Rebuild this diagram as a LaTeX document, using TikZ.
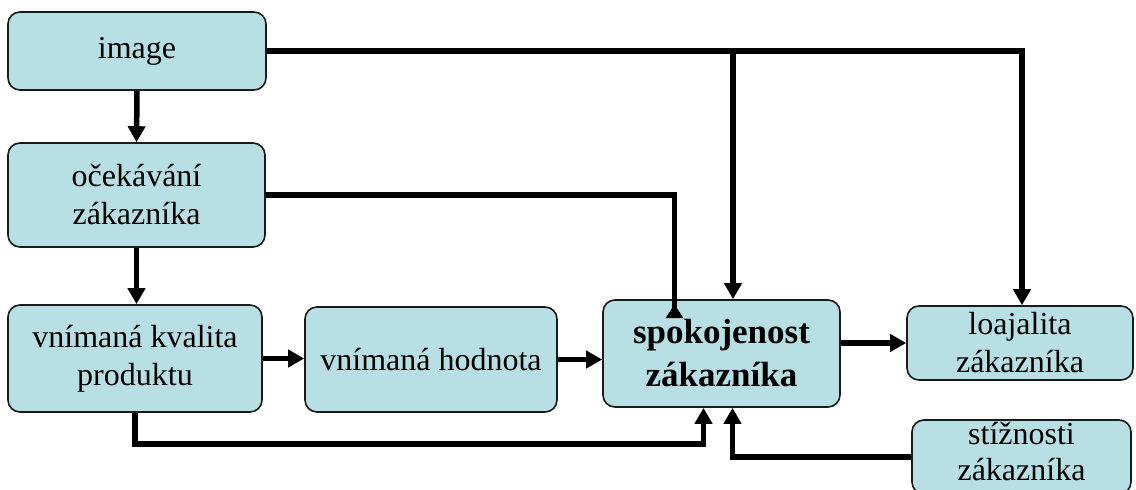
\documentclass[tikz,border=0pt]{standalone}
\usepackage{fontspec}
\setmainfont{Liberation Serif}
\usetikzlibrary{arrows.meta,calc}
\definecolor{boxfill}{HTML}{B8DFE3}
\definecolor{boxline}{HTML}{1A1A1A}
\begin{document}
\begin{tikzpicture}[x=1pt,y=1pt,
  box/.style={draw=boxline,line width=1.6pt,fill=boxfill,rounded corners=12pt,
    align=center,inner sep=0pt,font=\fontsize{32}{38}\selectfont},
  bigbox/.style={box,font=\fontsize{35}{43}\selectfont\bfseries},
  txt/.style={align=center,inner sep=0pt,font=\fontsize{32}{36}\selectfont},
  conn/.style={line width=5.5pt,-{Triangle[length=16pt,width=17pt]}}]
\useasboundingbox (0,0) rectangle (1136,-490);
\clip (0,0) rectangle (1136,-490);
\node[box,minimum width=258pt,minimum height=78pt] (image) at (137,-51) {image};
\node[box,minimum width=257pt,minimum height=104pt] (ocek) at (136.5,-195) {očekávání\\zákazníka};
\node[box,minimum width=254pt,minimum height=107pt] (kval) at (135,-358.5) {vnímaná kvalita\\produktu};
\node[box,minimum width=252pt,minimum height=105pt] (hodn) at (431,-359.5) {vnímaná hodnota};
\node[bigbox,minimum width=237pt,minimum height=107pt] (spok) at (721.5,-353.5) {spokojenost\\zákazníka};
\node[box,minimum width=226pt,minimum height=74pt] (loaj) at (1020,-343) {loajalita\\zákazníka};
\node[box,minimum width=219pt,minimum height=74pt] (stiz) at (1021.5,-457) {};
\node[txt] (stizT) at ($(stiz.center)+(0,5)$) {stížnosti\\zákazníka};
% connectors
\draw[conn] (image.south) -- (ocek.north);
\draw[conn] (image.east) -| ($(spok.north)+(11.5,0)$);
\draw[conn] (image.east) -| ($(loaj.north)+(2,0)$);
\draw[line width=5.5pt,-{Triangle[reversed,length=14pt,width=17pt]},shorten >=-19pt] (ocek.east) -| ($(spok.north)+(-47,0)$);
\draw[conn] (ocek.south) -- (ocek.south |- kval.north);
\draw[conn] (kval.east) -- (kval.east -| hodn.west);
\draw[conn] (hodn.east) -- (hodn.east -| spok.west);
\draw[conn] (kval.south) -- ++(0,-31) -| ($(spok.south)+(-18,0)$);
\draw[conn] (stiz.west) -| ($(spok.south)+(11,0)$);
\draw[conn] (spok.east |- loaj.west) -- (loaj.west);
\end{tikzpicture}
\end{document}
